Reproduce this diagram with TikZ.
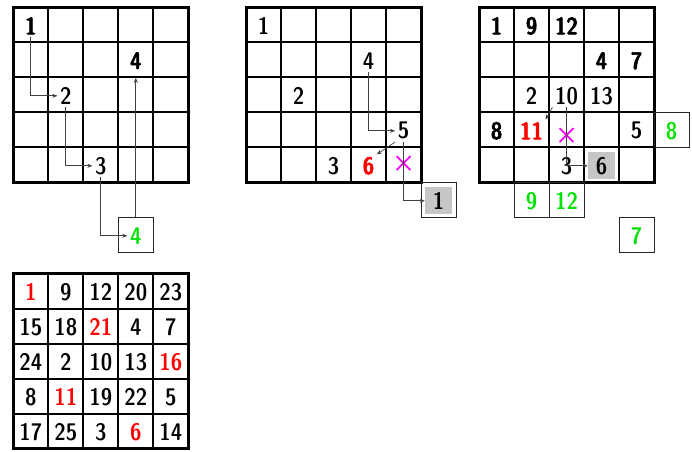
\documentclass[tikz,border=0pt]{standalone}
\usepackage{fontspec}
\newfontfamily\numfont{lmsansdemicond10-regular}[Extension=.otf]
\newfontfamily\numfontb{lmsansdemicond10-regular}[Extension=.otf,FakeBold=2.5]
\usetikzlibrary{arrows.meta,shapes.misc}
\definecolor{lgreen}{RGB}{0,225,0}
\definecolor{mag}{RGB}{255,0,255}
\definecolor{pred}{RGB}{255,0,0}
\tikzset{
  outerln/.style={line width=3pt},
  innerln/.style={line width=2pt},
  num/.style={font=\numfont\fontsize{24}{26}\selectfont, inner sep=2.5pt, yshift=-1pt},
  bnum/.style={num, font=\numfontb\fontsize{24}{26}\selectfont},
  gnum/.style={num, text=lgreen},
  rnum/.style={bnum, text=pred},
  rrnum/.style={num, text=pred},
  extbox/.style={draw=black!85, line width=1pt, minimum size=35pt, inner sep=0pt},
  grayfill/.style={fill=gray!45, minimum size=27pt, inner sep=0pt},
  xmark/.style={cross out, draw=mag, line width=1.8pt, minimum size=12pt, inner sep=0pt},
  arr/.style={draw=black!75, line width=0.7pt, -{Stealth[length=5pt,width=4pt]}}
}
\newcommand\drawmygrid{%
  \foreach \i in {1,2,3,4}{\draw[innerln] (\i,0) -- (\i,5); \draw[innerln] (0,\i) -- (5,\i);}
  \draw[outerln] (0,0) rectangle (5,5);}
\begin{document}
\begin{tikzpicture}[x=1pt,y=-1pt]
\useasboundingbox (0,0) rectangle (692,451);
% grid 1
\begin{scope}[shift={(13.3,7.3)}, x=35pt, y=-35pt]
  \drawmygrid
  \node[bnum] (a1) at (0.5,0.5) {1};
  \node[num] (a2) at (1.5,2.5) {2};
  \node[num] (a3) at (2.5,4.5) {3};
  \node[bnum] (a4) at (3.5,1.5) {4};
  \node[extbox] (abox) at (3.5,6.5) {};
  \node[gnum] (a4g) at (3.5,6.5) {4};
  \draw[arr] (a1.south) |- (a2.west);
  \draw[arr] (a2.south) |- (a3.west);
  \draw[arr] (a3.south) |- (a4g.west);
  \draw[arr, shorten >=6pt] (abox.north) -- (a4.south);
\end{scope}
% grid 2
\begin{scope}[shift={(246,7.3)}, x=35pt, y=-35pt]
  \drawmygrid
  \node[num] (b1) at (0.5,0.5) {1};
  \node[num] (b4) at (3.5,1.5) {4};
  \node[num] (b2) at (1.5,2.5) {2};
  \node[num] (b5) at (4.5,3.5) {5};
  \node[num] (b3) at (2.5,4.5) {3};
  \node[rnum] (b6) at (3.5,4.5) {6};
  \node[xmark] (bx) at (4.5,4.45) {};
  \node[extbox] (bbox) at (5.5,5.5) {};
  \node[num, grayfill] (bg1) at (5.5,5.5) {1};
  \draw[arr] (b4.south) |- (b5.west);
  \draw[arr] (b5.south west) -- (b6.north east);
  \draw[arr] (b5.south) |- (bg1.west);
\end{scope}
% grid 3
\begin{scope}[shift={(479,7.3)}, x=35pt, y=-35pt]
  \drawmygrid
  \node[bnum] (c1) at (0.5,0.5) {1};
  \node[bnum] (c9) at (1.5,0.5) {9};
  \node[bnum] (c12) at (2.5,0.5) {12};
  \node[bnum] (c4) at (3.5,1.5) {4};
  \node[bnum] (c7) at (4.5,1.5) {7};
  \node[num] (c2) at (1.5,2.5) {2};
  \node[num] (c10) at (2.5,2.5) {10};
  \node[num] (c13) at (3.5,2.5) {13};
  \node[bnum] (c8) at (0.5,3.5) {8};
  \node[rnum] (c11) at (1.5,3.5) {11};
  \node[xmark] (cx) at (2.5,3.65) {};
  \node[num] (c5) at (4.5,3.5) {5};
  \node[num] (c3) at (2.5,4.5) {3};
  \node[num, grayfill] (c6) at (3.5,4.5) {6};
  \node[extbox] (cbox8) at (5.5,3.5) {};
  \node[gnum] (cg8) at (5.5,3.5) {8};
  \node[extbox] (cbox9) at (1.5,5.5) {};
  \node[gnum] (cg9) at (1.5,5.5) {9};
  \node[extbox] (cbox12) at (2.5,5.5) {};
  \node[gnum] (cg12) at (2.5,5.5) {12};
  \node[extbox] (cbox7) at (4.5,6.5) {};
  \node[gnum] (cg7) at (4.5,6.5) {7};
  \draw[arr] (c10.south west) -- (c11.north east);
  \draw[arr] (c10.south) |- (c6.west);
\end{scope}
% grid 4
\begin{scope}[shift={(13.3,273.5)}, x=35pt, y=-35pt]
  \drawmygrid
  \foreach \row/\vals in {0/{1/rrnum,9/num,12/num,20/num,23/num},
                          1/{15/num,18/num,21/rrnum,4/num,7/num},
                          2/{24/num,2/num,10/num,13/num,16/rrnum},
                          3/{8/num,11/rrnum,19/num,22/num,5/num},
                          4/{17/num,25/num,3/num,6/rrnum,14/num}}{
    \foreach \v/\st [count=\c from 0] in \vals {
      \node[\st] (d-\row-\c) at (\c+0.5,\row+0.5) {\v};
    }
  }
\end{scope}
\end{tikzpicture}
\end{document}
